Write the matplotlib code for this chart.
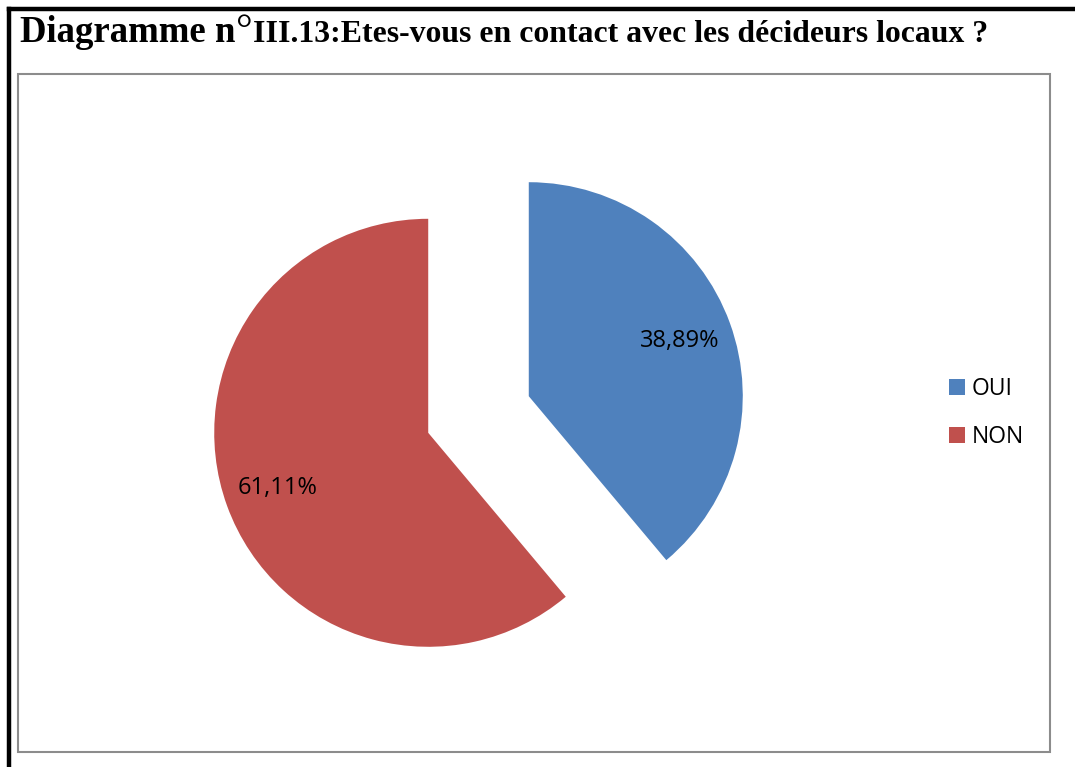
import matplotlib
matplotlib.use("Agg")
import matplotlib.pyplot as plt
from matplotlib.patches import Rectangle
from matplotlib.lines import Line2D
import numpy as np

categories = ["OUI", "NON"]
values = [38.89, 61.11]
pct_labels = ["38,89%", "61,11%"]
colors = ["#4F81BD", "#C0504D"]

W, H = 1075, 767
fig = plt.figure(figsize=(W / 100, H / 100), dpi=100)

def fx(px):
    return px / W

def fy(py):
    return 1 - py / H

# outer black frame (top and left)
fig.add_artist(Line2D([fx(8.5), 1.0], [fy(8.5), fy(8.5)], color="black", lw=3.2))
fig.add_artist(Line2D([fx(8.5), fx(8.5)], [fy(8.5), 0.0], color="black", lw=3.2))

# grey chart box
fig.add_artist(Rectangle((fx(18), fy(752)), fx(1050) - fx(18), fy(74) - fy(752),
                         fill=False, edgecolor="#8c8c8c", lw=1.5))

# title
renderer = fig.canvas.get_renderer()
base = fy(42)
t1 = fig.text(fx(20), base, "Diagramme n", fontsize=26.5, fontweight="bold",
              family="Liberation Serif", va="baseline", ha="left")
bb = t1.get_window_extent(renderer=renderer)
t2 = fig.text(bb.x1 / W + 0.001, base, "°", fontsize=30, fontweight="normal",
              family="Liberation Serif", va="baseline", ha="left")
bb2 = t2.get_window_extent(renderer=renderer)
fig.text(bb2.x1 / W, base, "III.13:Etes-vous en contact avec les décideurs locaux ?",
         fontsize=22.9, fontweight="bold", family="Liberation Serif", va="baseline", ha="left")

# pie
R = 214.0
cx, cy = 478.5, 414.5
half = 300
ax = fig.add_axes([fx(cx - half), fy(cy + half), 2 * half / W, 2 * half / H])
lim = half / R

wedges, texts = ax.pie(values, colors=colors, startangle=90, counterclock=False,
                       explode=[0.25, 0.25], radius=1.0, center=(0, 0),
                       wedgeprops=dict(linewidth=0), frame=False)
ax.set_xlim(-lim, lim)
ax.set_ylim(-lim, lim)
ax.set_aspect("equal")
ax.axis("off")

for w, lab in zip(wedges, pct_labels):
    ang = np.deg2rad((w.theta1 + w.theta2) / 2)
    c = w.center
    ax.text(c[0] + 0.75 * np.cos(ang), c[1] + 0.75 * np.sin(ang), lab,
            ha="center", va="center", fontsize=17, family="Open Sans")

leg = fig.legend(wedges, categories, loc="upper left",
                 bbox_to_anchor=(fx(949), fy(377)), frameon=False,
                 prop={"family": "Open Sans", "size": 16.5},
                 handlelength=0.7, handleheight=0.7, handletextpad=0.3,
                 labelspacing=1.05, borderpad=0, borderaxespad=0)

fig.savefig("out.png", dpi=100)
